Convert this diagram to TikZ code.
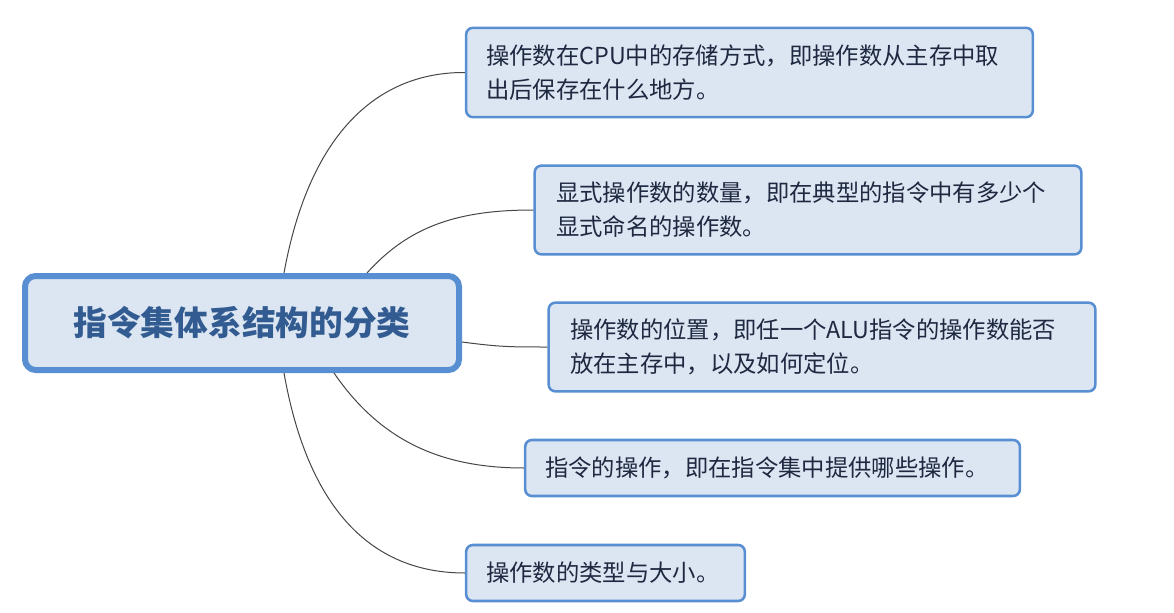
\documentclass[tikz,border=0pt]{standalone}
\usepackage{fontspec}
\setmainfont{Noto Sans CJK SC}
\usetikzlibrary{calc}
\definecolor{bordc}{RGB}{88,142,210}
\definecolor{fillc}{RGB}{220,230,242}
\definecolor{titc}{RGB}{50,92,145}
\definecolor{txtc}{RGB}{30,40,64}
\definecolor{linkc}{RGB}{70,70,70}
\begin{document}
\begin{tikzpicture}[x=0.75pt,y=-0.75pt,
  topic/.style={draw=bordc,fill=fillc,line width=1.9pt,rounded corners=5pt,
    align=left,inner xsep=15pt,inner ysep=0pt,text=txtc,
    font=\fontsize{17.5}{25.5}\selectfont},
  central/.style={draw=bordc,fill=fillc,line width=4.5pt,rounded corners=8pt,
    align=center,text=titc,font=\fontsize{25.3}{30}\selectfont\bfseries,
    minimum width=325.5pt,minimum height=70.5pt},
  link/.style={draw=linkc,line width=0.75pt}]
\useasboundingbox (0,0) rectangle (1174,613);

\node[central] (c) at (242,323) {指令集体系结构的分类};

\node[topic,minimum width=425pt,minimum height=67pt,text width=395pt] (t1) at (749.5,72.5)
  {操作数在CPU中的存储方式，即操作数从主存中取\\出后保存在什么地方。};
\node[topic,minimum width=408pt,minimum height=66.5pt,text width=378pt,inner xsep=16pt] (t2) at (808,210)
  {显式操作数的数量，即在典型的指令中有多少个\\显式命名的操作数。};
\node[topic,minimum width=408pt,minimum height=66.5pt,text width=378pt,inner xsep=16pt] (t3) at (822,347)
  {操作数的位置，即任一个ALU指令的操作数能否\\放在主存中，以及如何定位。};
\node[topic,minimum width=371pt,minimum height=42pt,text width=341pt] (t4) at (772.5,468)
  {指令的操作，即在指令集中提供哪些操作。};
\node[topic,minimum width=209pt,minimum height=42pt,text width=179pt] (t5) at (605.5,573)
  {操作数的类型与大小。};

\draw[link] ($(c.north west)+(262,0)$) .. controls (310,130) and (380,72) .. (t1.west);
\draw[link] ($(c.north west)+(345,0)$) .. controls (410,225) and (460,210) .. (t2.west);
\draw[link] ($(c.east)+(0,19)$) .. controls (500,347) and (510,347) .. (t3.west);
\draw[link] ($(c.south west)+(312,0)$) .. controls (380,440) and (440,468) .. (t4.west);
\draw[link] ($(c.south west)+(262,0)$) .. controls (310,520) and (380,573) .. (t5.west);
\end{tikzpicture}
\end{document}
